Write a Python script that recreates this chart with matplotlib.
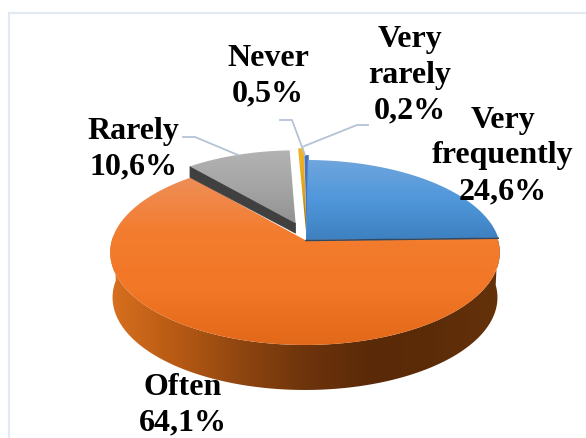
import numpy as np
import matplotlib
matplotlib.use("Agg")
import matplotlib.pyplot as plt
from matplotlib.colors import LinearSegmentedColormap
from matplotlib.patches import Polygon, Rectangle

# slices, clockwise from 12 o'clock
categories = ["Very frequently", "Often", "Rarely", "Never", "Very rarely"]
label_names = ["Very\nfrequently", "Often", "Rarely", "Never", "Very\nrarely"]
values = [24.6, 64.1, 10.6, 0.5, 0.2]

plt.rcParams["font.family"] = ["Liberation Serif", "DejaVu Serif"]

# pie geometry in pixels
CX, CY = 305, 240
RX, RY = 193, 90.8
PERSP = 0.135
DEPTH = 45


def project(angles, du=0.0, dv=0.0, scale=1.0):
    # circle in the pie plane to screen, with a little perspective
    u = scale * np.sin(angles) + du
    v = scale * np.cos(angles) + dv
    w = 1 + PERSP * v
    return CX + RX * u / w, CY - RY * v / w


def wedge_points(a0, a1, du=0.0, dv=0.0, scale=1.0):
    arc = np.linspace(a0, a1, max(int((a1 - a0) * 80), 4))
    x, y = project(arc, du, dv, scale)
    ax0, ay0 = project(np.array([0.0]), du, dv, 0.0)
    return np.vstack([[ax0[0], ay0[0]], np.column_stack([x, y])])


def gradient_fill(ax, points, colors, zorder, horizontal=False):
    cmap = LinearSegmentedColormap.from_list("fill", colors)
    grad = np.linspace(0, 1, 256).reshape(-1, 1)
    if horizontal:
        grad = grad.T
    ymin, ymax = points[:, 1].min(), points[:, 1].max()
    xmin, xmax = points[:, 0].min(), points[:, 0].max()
    im = ax.imshow(grad, cmap=cmap, extent=(xmin, xmax, ymax, ymin),
                   aspect="auto", zorder=zorder, interpolation="bilinear")
    clip = Polygon(points, closed=True, transform=ax.transData, fc="none", ec="none")
    ax.add_patch(clip)
    im.set_clip_path(clip)


fig = plt.figure(figsize=(5.86, 4.38), dpi=100)
ax = fig.add_axes([0, 0, 1, 1])

# chart frame
ax.add_patch(Rectangle((8.5, 12.5), 700, 600, fc="white", ec="#e3e9f0", lw=1.6, zorder=0))

edges = np.radians(np.concatenate([[0], np.cumsum(values)]) * 3.6)

# Often: side wall as one shape with a left to right shading
wall_a = np.linspace(max(edges[1], np.pi / 2), min(edges[2], 3 * np.pi / 2) + 0.05, 240)
xt, yt = project(wall_a)
wall_pts = np.vstack([
    np.column_stack([xt, yt]),
    np.column_stack([CX + (xt - CX) * 0.988, yt + DEPTH])[::-1],
])
gradient_fill(ax, wall_pts,
              ["#d8701f", "#b85a14", "#8f4610", "#6e340c", "#5a2a08", "#5c2c09", "#653209"],
              1, horizontal=True)

# Often: top
gradient_fill(ax, wedge_points(edges[1], edges[2]),
              ["#ee8e58", "#f37c2e", "#f27726", "#e3691a"], 2)

# Rarely: cut face and top, pulled out of the pie
gray_pts = wedge_points(edges[2], edges[3], -0.05, 0.19, 0.95)
face = [tuple(gray_pts[0]), tuple(gray_pts[1]),
        (gray_pts[1][0], gray_pts[1][1] + 11), (gray_pts[0][0], gray_pts[0][1] + 10)]
ax.add_patch(Polygon(face, closed=True, fc="#404040", ec="#404040", lw=0.5, zorder=3))
gradient_fill(ax, gray_pts, ["#b3b3b3", "#a5a5a5", "#929292"], 4)

# Never and Very rarely slivers
gradient_fill(ax, wedge_points(edges[3], edges[4], 0.008, 0.04, 1.13),
              ["#f2b52a", "#e0a417", "#7a5c10"], 5)
gradient_fill(ax, wedge_points(edges[4], edges[5] + 0.012, 0.01, 0.0, 1.07),
              ["#4472c4", "#4472c4", "#3a5fa5"], 6)

# Very frequently
blue_pts = wedge_points(edges[0] + 0.012, edges[1], 0.005, 0.0)
gradient_fill(ax, blue_pts, ["#6fa5dd", "#4f97da", "#3e80c0"], 7)
ax.plot(blue_pts[[0, -1], 0], blue_pts[[0, -1], 1] + 0.5, color="#2d4a66", lw=1.1, zorder=8)

# leader lines
leader_color = "#b4c3d6"
ax.plot([183, 195, 238], [137, 137, 155], color=leader_color, lw=1.3, zorder=9)
ax.plot([280, 292, 305], [120, 120, 155], color=leader_color, lw=1.3, zorder=9)
ax.plot([368, 357, 302], [125, 125, 147], color=leader_color, lw=1.3, zorder=9)

# data labels
label_pos = [(503, 156), (183, 405), (133, 149), (268, 76), (410, 75)]
for name, val, (lx, ly) in zip(label_names, values, label_pos):
    txt = name + "\n" + f"{val:.1f}".replace(".", ",") + "%"
    ax.text(lx, ly, txt, ha="center", va="center", fontsize=23, fontweight="bold",
            color="black", linespacing=1.3, zorder=10)

ax.set_xlim(0, 586)
ax.set_ylim(438, 0)
ax.axis("off")

fig.savefig("out.png", dpi=100, facecolor="white")
plt.close(fig)
